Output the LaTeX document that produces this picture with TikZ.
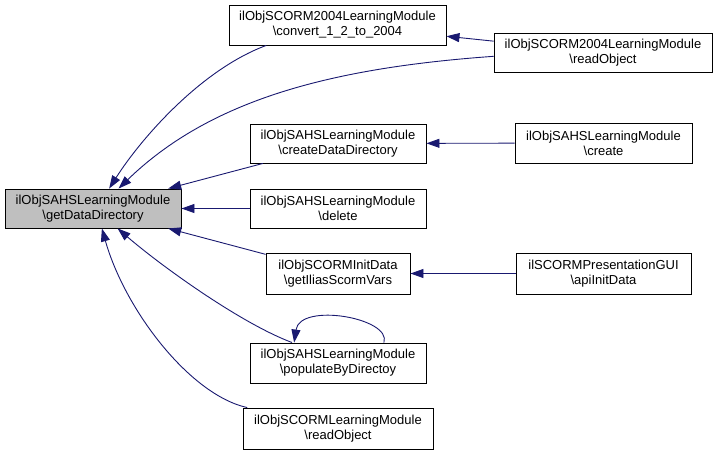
\documentclass[tikz,border=0pt]{standalone}
\usepackage{fontspec}
\setmainfont{Liberation Sans}
\usetikzlibrary{arrows.meta}
\definecolor{edgeblue}{HTML}{191970}
\definecolor{callergray}{HTML}{BFBFBF}

\begin{document}
\begin{tikzpicture}[x=1pt,y=-1pt,
  fn/.style={draw, line width=0.9pt, align=center, inner sep=0pt,
    minimum height=40pt, font=\fontsize{13}{15}\selectfont},
  call/.style={draw=edgeblue, line width=0.9pt,
    -{Triangle[length=13pt,width=9pt]}}]
  \useasboundingbox (0,0) rectangle (717,455);

  \node[fn, fill=callergray, minimum width=176pt, minimum height=39pt] (gdd) at (93,208.5)
    {ilObjSAHSLearningModule\\\textbackslash getDataDirectory};

  \node[fn, minimum width=217pt] (conv) at (337.5,25)
    {ilObjSCORM2004LearningModule\\\textbackslash convert\_1\_2\_to\_2004};
  \node[fn, minimum width=218pt, minimum height=39pt] (readobj) at (603,52.5)
    {ilObjSCORM2004LearningModule\\\textbackslash readObject};
  \node[fn, minimum width=176pt, minimum height=39pt] (cdd) at (338,143.5)
    {ilObjSAHSLearningModule\\\textbackslash createDataDirectory};
  \node[fn, minimum width=177pt] (create) at (603.5,143)
    {ilObjSAHSLearningModule\\\textbackslash create};
  \node[fn, minimum width=176pt, minimum height=39pt] (delete) at (338,208.5)
    {ilObjSAHSLearningModule\\\textbackslash delete};
  \node[fn, minimum width=144pt, minimum height=41pt] (gisv) at (338,273.5)
    {ilObjSCORMInitData\\\textbackslash getIliasScormVars};
  \node[fn, minimum width=175pt, minimum height=41pt] (apiinit) at (603.5,273.5)
    {ilSCORMPresentationGUI\\\textbackslash apiInitData};
  \node[fn, minimum width=176pt] (pbd) at (338,363)
    {ilObjSAHSLearningModule\\\textbackslash populateByDirectoy};
  \node[fn, minimum width=190pt, minimum height=41pt] (scormro) at (338,428.5)
    {ilObjSCORMLearningModule\\\textbackslash readObject};

  \draw[call] (conv.196) .. controls (200,70) and (140,140) .. (gdd.51);
  \draw[call] (readobj.182) .. controls (330,68) and (210,100) .. (gdd.38);
  \draw[call] (readobj) -- (conv);
  \draw[call] (cdd) -- (gdd);
  \draw[call] (create) -- (cdd);
  \draw[call] (delete) -- (gdd);
  \draw[call] (gisv) -- (gdd);
  \draw[call] (apiinit) -- (gisv);
  \draw[call] (pbd.156) .. controls (240,323) and (160,265) .. (gdd.-39);
  \draw[call] (pbd.24) .. controls (392,318) and (300,302) .. (pbd.155);
  \draw[call] (scormro.167) .. controls (190,395) and (125,310) .. (gdd.-66);
\end{tikzpicture}
\end{document}
